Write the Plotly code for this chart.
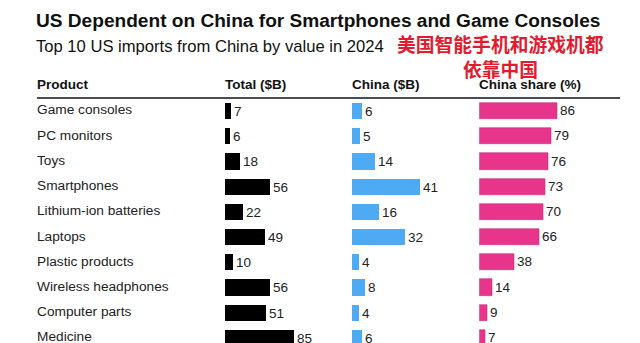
import plotly.graph_objects as go

products = ["Game consoles", "PC monitors", "Toys", "Smartphones", "Lithium-ion batteries",
            "Laptops", "Plastic products", "Wireless headphones", "Computer parts", "Medicine"]
total_b = [7, 6, 18, 56, 22, 49, 10, 56, 51, 85]
china_b = [6, 5, 14, 41, 16, 32, 4, 8, 4, 6]
china_share = [86, 79, 76, 73, 70, 66, 38, 14, 9, 7]
headers = ["Product", "Total ($B)", "China ($B)", "China share (%)"]

W, H = 640, 343
def px(x): return x / W
def py(y): return 1 - y / H

FONT = "Liberation Sans, Arial, sans-serif"
TXT = "#222222"

fig = go.Figure()
bar_kw = dict(orientation="h", width=0.64, textposition="outside", cliponaxis=False,
              textfont=dict(family=FONT, size=13.5, color=TXT), hoverinfo="skip")
fig.add_trace(go.Bar(x=total_b, y=products, text=total_b, marker=dict(color="#000000", line=dict(width=0)),
                     xaxis="x", yaxis="y", **bar_kw))
fig.add_trace(go.Bar(x=china_b, y=products, text=china_b, marker=dict(color="#4eaaf2", line=dict(width=0)),
                     xaxis="x2", yaxis="y", **bar_kw))
fig.add_trace(go.Bar(x=china_share, y=products, text=china_share,
                     marker=dict(color="#e8348b", line=dict(width=0.6, color="#c9307a")),
                     xaxis="x3", yaxis="y", **bar_kw))
fig.add_trace(go.Scatter(x=[0] * len(products), y=products, text=products, mode="text",
                         textposition="middle right", cliponaxis=False,
                         textfont=dict(family=FONT, size=13.7, color=TXT),
                         xaxis="x4", yaxis="y", hoverinfo="skip"))

hidden = dict(visible=False, fixedrange=True)
fig.update_layout(
    width=W, height=H, margin=dict(l=0, r=0, t=0, b=0),
    paper_bgcolor="white", plot_bgcolor="white", showlegend=False, bargap=0,
    xaxis=dict(domain=[px(225), px(340)], range=[0, 115 / 0.81], **hidden),
    xaxis2=dict(domain=[px(352), px(470)], range=[0, 118 / 1.66], **hidden),
    xaxis3=dict(domain=[px(479.3), px(620)], range=[0, 140.7 / 0.91], **hidden),
    xaxis4=dict(domain=[px(37), px(220)], range=[0, 10], **hidden),
    yaxis=dict(domain=[0, 1], type="category", categoryorder="array", categoryarray=products,
               range=[9.198, -4.401], **hidden),
)

# Title and subtitle
fig.add_annotation(text="<b>US Dependent on China for Smartphones and Game Consoles</b>",
                   x=px(34), y=py(21), xref="paper", yref="paper", xanchor="left", yanchor="middle",
                   showarrow=False, font=dict(family=FONT, size=19.1, color="#111111"))
fig.add_annotation(text="Top 10 US imports from China by value in 2024",
                   x=px(34), y=py(47), xref="paper", yref="paper", xanchor="left", yanchor="middle",
                   showarrow=False, font=dict(family=FONT, size=16.6, color="#111111"))

# Chinese overlay caption
outline = ("1px 1px 0 #fff, -1px -1px 0 #fff, 1px -1px 0 #fff, -1px 1px 0 #fff, "
           "2px 0 0 #fff, -2px 0 0 #fff, 0 2px 0 #fff, 0 -2px 0 #fff")
for txt, yc in [("美国智能手机和游戏机都", 43), ("依靠中国", 68)]:
    fig.add_annotation(text="<b>" + txt + "</b>", x=px(500), y=py(yc), xref="paper", yref="paper",
                       xanchor="center", yanchor="middle", showarrow=False,
                       font=dict(family="Noto Sans CJK SC", size=18.8, color="#e31b2f", shadow=outline))

# Column headers
for h, xh in zip(headers, [37, 225, 352, 479]):
    fig.add_annotation(text="<b>" + h + "</b>", x=px(xh - 2), y=py(84), xref="paper", yref="paper",
                       xanchor="left", yanchor="middle", showarrow=False,
                       font=dict(family=FONT, size=13.5, color="#111111"))

fig.add_shape(type="line", xref="paper", yref="paper", x0=px(37), x1=px(620), y0=py(98), y1=py(98),
              line=dict(color="#111111", width=1.6))

fig.write_html("out.html")
